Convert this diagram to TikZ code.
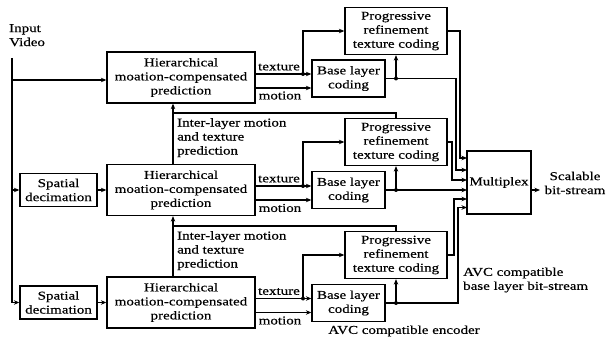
\documentclass[tikz,border=0pt]{standalone}
\usepackage{fontspec}
\setmainfont{Liberation Serif}[FakeStretch=1.25,FakeBold=0.5]
\usetikzlibrary{arrows.meta}
\begin{document}
\begin{tikzpicture}[x=1pt,y=-1pt,
  box/.style={draw,line width=1.3pt,inner sep=0pt,align=center,font=\fontsize{12}{14}\selectfont},
  hbox/.style={box,minimum width=148pt,minimum height=51pt},
  sbox/.style={box,minimum width=77pt,minimum height=33pt},
  bbox/.style={box,minimum width=73pt,minimum height=37pt},
  pbox/.style={box,minimum width=102pt,minimum height=47pt},
  lbl/.style={inner sep=0pt,font=\fontsize{12}{14}\selectfont},
  ln/.style={line width=1.1pt},
  arr/.style={line width=1.1pt,-{Stealth[length=5.5pt,width=4.5pt]}},
  jdot/.style={circle,fill,inner sep=0pt,minimum size=4pt}]
\useasboundingbox (0,0) rectangle (611,342);

% boxes
\node[hbox] (hm1) at (181,77.5) {Hierarchical\\moation-compensated\\prediction};
\node[hbox] (hm2) at (181,190) {Hierarchical\\moation-compensated\\prediction};
\node[hbox] (hm3) at (181,302.5) {Hierarchical\\moation-compensated\\prediction};
\node[sbox] (sd2) at (58.5,190) {Spatial\\decimation};
\node[sbox] (sd3) at (58.5,302.5) {Spatial\\decimation};
\node[bbox] (bl1) at (348.5,78.5) {Base layer\\coding};
\node[bbox] (bl2) at (348.5,190) {Base layer\\coding};
\node[bbox] (bl3) at (348.5,303) {Base layer\\coding};
\node[pbox] (pr1) at (396,31) {Progressive\\refinement\\texture coding};
\node[pbox] (pr2) at (396,142) {Progressive\\refinement\\texture coding};
\node[pbox] (pr3) at (396,255) {Progressive\\refinement\\texture coding};
\node[box,minimum width=64pt,minimum height=63pt] (mux) at (499,182.5) {Multiplex};

% labels
\node[lbl,align=left,anchor=north west] (iv) at (9,24) {Input\\Video};
\node[lbl,align=center] (sb) at (575,183) {Scalable\\bit-stream};
\node[lbl,align=left,anchor=north west] (il1t) at (177,118) {Inter-layer motion\\and texture\\prediction};
\node[lbl,align=left,anchor=north west] (il2t) at (177,231) {Inter-layer motion\\and texture\\prediction};
\node[lbl,align=left,anchor=west] (avcb) at (463,280) {AVC compatible\\base layer bit-stream};
\node[lbl] (avce) at (404,331) {AVC compatible encoder};
\node[lbl] (tx1) at (279,67) {texture};
\node[lbl] (mo1) at (280,95.5) {motion};
\node[lbl] (tx2) at (279,179) {texture};
\node[lbl] (mo2) at (280,208) {motion};
\node[lbl] (tx3) at (279,291.5) {texture};
\node[lbl] (mo3) at (280,320.5) {motion};

% input line
\coordinate (vtop) at (12,58);
\coordinate (v1) at (12,80);
\coordinate (v2) at (12,190);
\draw[arr] (vtop) |- (sd3.west);
\draw[arr] (v1) -- (v1 -| hm1.west);
\draw[arr] (v2) -- (sd2.west);
\draw[arr] (sd2.east) -- (hm2.west);
\draw[arr] (sd3.east) -- (hm3.west);

% texture / motion
\coordinate (t1) at (303,74);
\coordinate (t2) at (303,186);
\coordinate (t3) at (303,298.5);
\coordinate (m1) at (303,88);
\coordinate (m2) at (303,200);
\coordinate (m3) at (303,312.5);
\foreach \i in {1,2,3}{
  \draw[ln] (hm\i.east |- t\i) -- (t\i);
  \draw[arr] (t\i) -- (t\i -| bl\i.west);
  \draw[arr] (t\i) |- (pr\i.west);
  \draw[arr] (hm\i.east |- m\i) -- (m\i -| bl\i.west);
  \node[jdot] at (t\i) {};
}

% base layer outputs
\coordinate (b1) at (396,78.5);
\coordinate (b2) at (396,190);
\coordinate (b3) at (396,303);
\foreach \i in {1,2,3}{
  \draw[ln] (bl\i.east) -- (b\i);
  \draw[arr] (b\i) -- (pr\i.south);
  \node[jdot] at (b\i) {};
}

% multiplex inputs
\coordinate (in1) at (467,158);
\coordinate (in2) at (467,170);
\coordinate (in3) at (467,180);
\coordinate (in4) at (467,190);
\coordinate (in5) at (467,199);
\coordinate (in6) at (467,207.5);
\draw[arr] (pr1.east) -- (460,31) |- (in1);
\draw[arr] (b1) -- (456,78.5) |- (in2);
\draw[arr] (pr2.east) -- (452,142) |- (in3);
\draw[arr] (b2) -- (in4);
\draw[arr] (pr3.east) -- (454,255) |- (in5);
\draw[arr] (b3) -- (458,303) |- (in6);
\draw[arr] (mux.east |- in4) -- (540,190);

% inter-layer prediction
\coordinate (il1) at (173,113);
\coordinate (il2) at (173,226);
\draw[ln] (pr2.north) |- (il1);
\draw[arr] (il1) -- (il1 |- hm1.south);
\draw[ln] (il1) -- (il1 |- hm2.north);
\draw[ln] (pr3.north) |- (il2);
\draw[arr] (il2) -- (il2 |- hm2.south);
\draw[ln] (il2) -- (il2 |- hm3.north);
\end{tikzpicture}
\end{document}
